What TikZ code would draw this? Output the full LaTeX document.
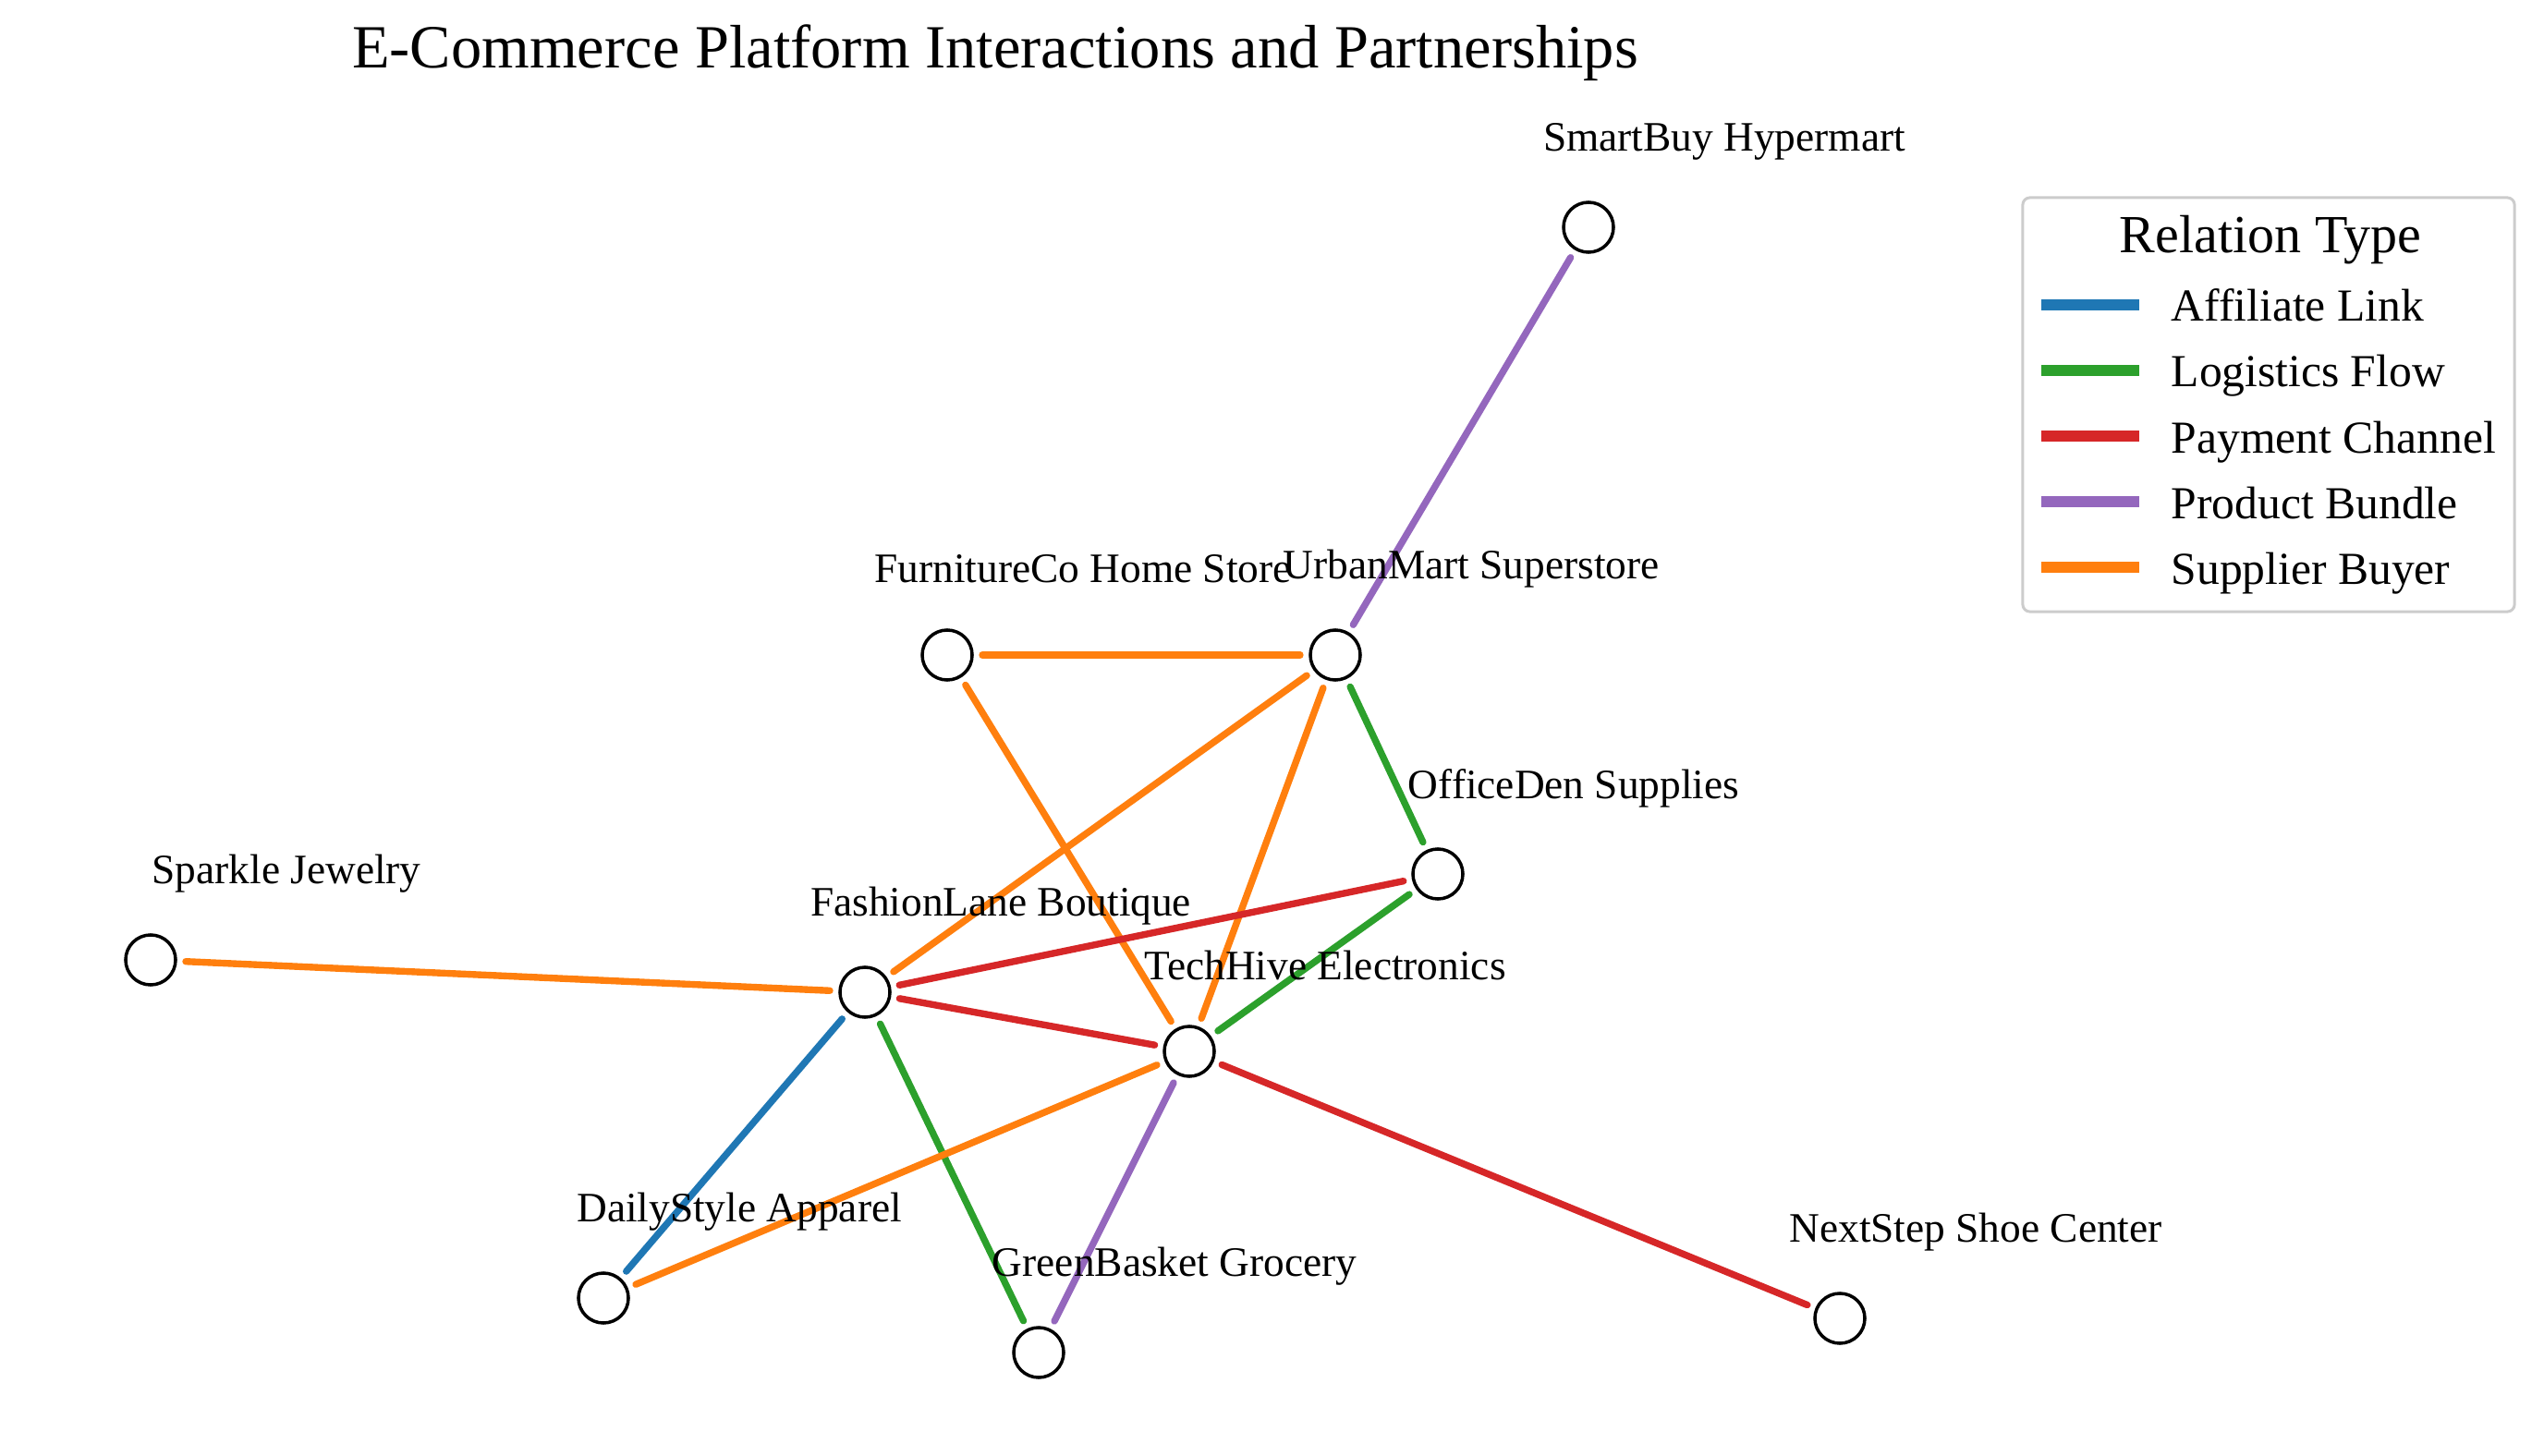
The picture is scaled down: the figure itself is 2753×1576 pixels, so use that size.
\documentclass[tikz,border=0pt]{standalone}
\usepackage{fontspec}
\setmainfont{Liberation Serif}
\usetikzlibrary{backgrounds}

\definecolor{affiliate}{HTML}{1F77B4}
\definecolor{logistics}{HTML}{2CA02C}
\definecolor{payment}{HTML}{D62728}
\definecolor{bundle}{HTML}{9467BD}
\definecolor{supplier}{HTML}{FF7F0E}
\definecolor{legendgray}{HTML}{CCCCCC}

\begin{document}
\begin{tikzpicture}[x=0.01cm,y=-0.01cm,
		shop/.style={circle,draw=black,fill=white,line width=1pt,minimum size=0.54cm,inner sep=0pt,outer sep=0.11cm},
		shoplabel/.style={anchor=base,inner sep=0pt,xshift=1.47cm,yshift=0.93cm,font=\fontsize{12.9}{15}\selectfont},
		link/.style={line width=2.1pt,line cap=round}]
			\useasboundingbox (0,0) rectangle (2753,1576);

			\node[anchor=base,font=\fontsize{18.9}{22}\selectfont] (title) at (1077,74) {E-Commerce Platform Interactions and Partnerships};

			\foreach \name/\x/\y/\txt in {smartbuy/1719/246/SmartBuy Hypermart,
				furniture/1025/709/FurnitureCo Home Store,
				urbanmart/1445/709/UrbanMart Superstore,
				officeden/1556/946/OfficeDen Supplies,
				sparkle/163/1039/Sparkle Jewelry,
				fashionlane/936/1074/FashionLane Boutique,
				techhive/1287/1138/TechHive Electronics,
				dailystyle/653/1405/DailyStyle Apparel,
				greenbasket/1124/1464/GreenBasket Grocery,
				nextstep/1991/1427/NextStep Shoe Center}
			{
				\node[shop,label={[shoplabel]center:\txt}] (\name) at (\x,\y) {};
			}

			\begin{scope}[on background layer]
				\foreach \a/\b/\c in {smartbuy/urbanmart/bundle,
					furniture/urbanmart/supplier,
					furniture/techhive/supplier,
					urbanmart/fashionlane/supplier,
					urbanmart/techhive/supplier,
					urbanmart/officeden/logistics,
					officeden/techhive/logistics,
					officeden/fashionlane/payment,
					sparkle/fashionlane/supplier,
					fashionlane/techhive/payment,
					fashionlane/dailystyle/affiliate,
					fashionlane/greenbasket/logistics,
					techhive/dailystyle/supplier,
					techhive/greenbasket/bundle,
					techhive/nextstep/payment}
				{
					\draw[link,\c] (\a) -- (\b);
				}
			\end{scope}

			\node[draw=legendgray,fill=white,line width=0.03cm,rounded corners=0.08cm,minimum width=5.32cm,minimum height=4.48cm] (legend) at (2455,438) {};
			\node[anchor=base,font=\fontsize{16.5}{19}\selectfont] (legend title) at (2457,274) {Relation Type};
			\foreach \c/\txt [count=\i] in {affiliate/Affiliate Link,logistics/Logistics Flow,payment/Payment Channel,bundle/Product Bundle,supplier/Supplier Buyer}
			{
				\draw[line width=0.12cm,\c] (2209,{330+71*(\i-1)}) -- (2315,{330+71*(\i-1)});
				\node[anchor=base west,inner sep=0pt,font=\fontsize{14.1}{17}\selectfont] (entry \i) at (2349,{348+71*(\i-1)}) {\txt};
			}
		\end{tikzpicture}
\end{document}
